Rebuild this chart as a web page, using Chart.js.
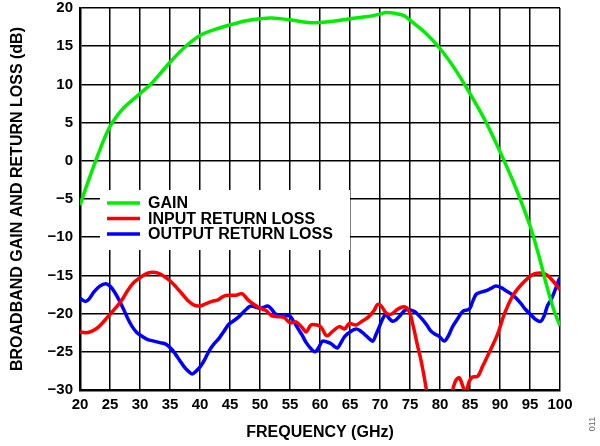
<!DOCTYPE html>
<html>
<head>
<meta charset="utf-8">
<script src="https://cdn.jsdelivr.net/npm/chart.js@4.4.1/dist/chart.umd.min.js"></script>
<style>
  body { margin: 0; background: #fff; }
  canvas { display: block; }
</style>
</head>
<body>
<canvas id="grafica" width="600" height="446"></canvas>
<script>
// values
const gainFreq = [20, 21, 22, 23, 24, 25, 26, 27.5, 30, 32, 35, 37.5, 40, 42.5, 45, 47.5, 50, 52, 55, 58, 60, 62.5, 65, 68, 70, 71, 72.5, 74, 75, 77.5, 80, 82.5, 85, 87.5, 90, 92.5, 95, 96.5, 97.8, 99, 100];
const gainDb = [-5.8, -3.5, -1.3, 0.8, 2.8, 4.5, 5.7, 7.1, 8.8, 10.2, 12.9, 14.9, 16.4, 17.2, 17.8, 18.3, 18.6, 18.7, 18.45, 18.1, 18.1, 18.3, 18.6, 18.9, 19.2, 19.4, 19.3, 19.0, 18.4, 16.8, 14.7, 12.0, 8.8, 5.3, 1.2, -3.3, -8.5, -12.5, -16.4, -19.6, -21.6];

const inputFreq = [20, 21, 22, 23, 24, 25, 26, 27, 28, 29, 30, 31, 32, 33, 34, 35, 36, 37, 38, 39, 40, 41, 42, 43, 44, 45, 46, 47, 48, 49, 50, 51, 52, 53, 54, 55, 56, 57, 57.7, 58.5, 59.5, 60.2, 61.1, 62, 63.2, 64.1, 64.9, 66, 67, 68, 69, 69.6, 70.2, 71, 71.8, 73, 74, 74.8, 75.5, 76.2, 76.8, 77.3, 77.8, 80, 82, 82.6, 83.2, 83.8, 84.3, 84.8, 85.4, 86.3, 87.1, 88.2, 89.6, 90.7, 92.1, 93.8, 95.4, 96.6, 97.7, 98.8, 100];
const inputDb = [-22.4, -22.5, -22.3, -21.8, -21.0, -20.1, -19.2, -18.2, -16.9, -15.9, -15.3, -14.8, -14.6, -14.7, -15.1, -15.7, -16.5, -17.4, -18.3, -18.9, -19.0, -18.7, -18.4, -18.2, -17.7, -17.6, -17.6, -17.4, -18.2, -18.8, -19.3, -19.6, -20.3, -20.4, -20.5, -21.2, -21.1, -21.8, -22.4, -21.5, -21.5, -21.8, -22.9, -22.4, -21.7, -22.0, -21.3, -21.5, -21.0, -20.5, -19.6, -18.8, -19.0, -19.9, -20.1, -19.4, -19.1, -19.6, -21.5, -24.0, -26.0, -28.0, -30.3, null, -30.3, -28.8, -28.4, -29.5, -30.5, -29.0, -28.3, -28.2, -26.9, -25.1, -22.7, -20.1, -17.7, -16.0, -14.9, -14.7, -14.9, -15.7, -16.9];

const outputFreq = [20, 20.9, 21.5, 22.3, 23.3, 24.3, 25, 25.7, 26.5, 27.3, 28, 28.7, 29.5, 30.4, 31.3, 32.3, 33.3, 34.3, 35.2, 35.9, 36.6, 37.3, 38, 38.7, 39.4, 40.1, 40.8, 41.5, 42.3, 43.2, 44, 44.8, 45.5, 46.2, 47, 47.9, 48.5, 49.9, 50.5, 51.3, 52, 52.7, 54, 54.9, 55.6, 56.3, 57, 57.7, 58.5, 59.2, 59.8, 60.4, 61.1, 61.8, 62.4, 62.9, 63.5, 64.1, 65, 66, 66.8, 67.4, 68.1, 68.8, 69.3, 69.9, 70.5, 71, 71.5, 72.1, 72.7, 73.2, 74.3, 75.7, 76.4, 77.1, 77.8, 78.5, 79.2, 79.9, 80.7, 81.4, 82.1, 83, 83.8, 84.9, 85.4, 86, 86.8, 87.7, 88.5, 89.3, 90.2, 91, 92, 92.7, 93.5, 94.3, 95.2, 96, 96.8, 97.4, 97.9, 98.5, 99, 99.8, 100];
const outputDb = [-18.0, -18.4, -18.1, -17.2, -16.4, -16.1, -16.4, -17.1, -18.2, -19.5, -20.7, -21.7, -22.5, -23.0, -23.4, -23.6, -23.8, -24.0, -24.6, -25.3, -26.1, -26.9, -27.5, -27.9, -27.5, -26.9, -26.0, -24.9, -24.0, -23.2, -22.3, -21.4, -21.0, -20.6, -20.0, -19.3, -19.0, -19.3, -19.2, -19.0, -19.5, -20.1, -20.3, -20.3, -21.0, -21.9, -22.8, -23.8, -24.6, -25.0, -24.4, -23.6, -23.7, -23.9, -24.3, -24.5, -23.8, -23.0, -22.4, -22.0, -22.3, -22.7, -23.2, -23.6, -22.8, -21.7, -20.6, -20.1, -20.6, -21.0, -20.8, -20.4, -19.5, -19.7, -20.2, -20.8, -21.5, -22.3, -22.7, -23.0, -23.6, -22.9, -21.7, -20.6, -19.7, -19.4, -18.5, -17.5, -17.2, -17.0, -16.7, -16.4, -16.6, -17.0, -17.5, -18.0, -18.7, -19.5, -20.2, -20.8, -21.0, -20.2, -19.0, -18.2, -17.3, -15.6, -15.3];

const seriesNames = ['GAIN', 'INPUT RETURN LOSS', 'OUTPUT RETURN LOSS'];
const seriesColors = ['#00ee00', '#ff0000', '#0000ff'];

const xTicks = { min: 20, max: 100, step: 5 };
const yTicks = { min: -30, max: 20, step: 5 };

function puntos(xs, ys) {
    return xs.map((x, i) => ({ x: x, y: ys[i] }));
}

const fuente = 'Liberation Sans, Arial, sans-serif';

// legend box drawn over the grid, under the curves
const leyenda = {
    id: 'leyenda',
    beforeDatasetsDraw(chart) {
        const ctx = chart.ctx;
        const a = chart.chartArea;
        const x0 = a.left + 20, y0 = a.top + 182;
        ctx.save();
        ctx.fillStyle = '#fff';
        ctx.fillRect(x0, y0, 250, 60);
        ctx.font = 'bold 16px ' + fuente;
        ctx.textBaseline = 'middle';
        chart.data.datasets.forEach((ds, i) => {
            const y = y0 + 13 + i * 15.5;
            ctx.strokeStyle = ds.borderColor;
            ctx.lineWidth = 3.5;
            ctx.beginPath();
            ctx.moveTo(x0 + 7, y);
            ctx.lineTo(x0 + 40, y);
            ctx.stroke();
            ctx.fillStyle = '#000';
            ctx.fillText(ds.label, x0 + 48, y + 1);
        });
        ctx.restore();
    },
    afterDraw(chart) {
        const ctx = chart.ctx;
        ctx.save();
        ctx.translate(593, 424);
        ctx.rotate(-Math.PI / 2);
        ctx.fillStyle = '#666';
        ctx.font = '9px ' + fuente;
        ctx.textAlign = 'center';
        ctx.textBaseline = 'middle';
        ctx.fillText('011', 0, 0);
        ctx.restore();
    }
};

const grafica = new Chart(document.getElementById('grafica').getContext('2d'), {
    type: 'line',
    data: {
        datasets: [
            { label: seriesNames[0], data: puntos(gainFreq, gainDb), borderColor: seriesColors[0] },
            { label: seriesNames[1], data: puntos(inputFreq, inputDb), borderColor: seriesColors[1] },
            { label: seriesNames[2], data: puntos(outputFreq, outputDb), borderColor: seriesColors[2] }
        ]
    },
    options: {
        responsive: false,
        animation: false,
        layout: { padding: { top: 0, right: 40, left: 0, bottom: 0 } },
        elements: {
            point: { radius: 0 },
            line: { borderWidth: 3.5, tension: 0.35, fill: false }
        },
        plugins: {
            legend: { display: false },
            tooltip: { enabled: false }
        },
        scales: {
            x: {
                type: 'linear',
                min: xTicks.min,
                max: xTicks.max,
                afterFit: s => { s.height = 56; },
                ticks: { stepSize: xTicks.step, color: '#000', font: { family: fuente, size: 15, weight: 'bold' }, padding: 6, maxRotation: 0 },
                grid: { color: '#000', lineWidth: 1.5, drawTicks: false },
                border: { color: '#000', width: 2.5 },
                title: { display: true, text: 'FREQUENCY (GHz)', color: '#000', font: { family: fuente, size: 16, weight: 'bold' }, padding: { top: 5 } }
            },
            y: {
                min: yTicks.min,
                max: yTicks.max,
                afterFit: s => { s.width = 80; s.paddingTop = 8; },
                ticks: {
                    stepSize: yTicks.step, color: '#000', padding: 7,
                    font: { family: fuente, size: 15, weight: 'bold' },
                    callback: v => String(v).replace('-', '\u2212')
                },
                grid: { color: '#000', lineWidth: 1.5, drawTicks: false },
                border: { color: '#000', width: 2.5 },
                title: { display: true, text: 'BROADBAND GAIN AND RETURN LOSS (dB)', color: '#000', font: { family: fuente, size: 16, weight: 'bold' }, padding: { top: 8, bottom: 0 } }
            }
        }
    },
    plugins: [leyenda]
});
</script>
</body>
</html>
